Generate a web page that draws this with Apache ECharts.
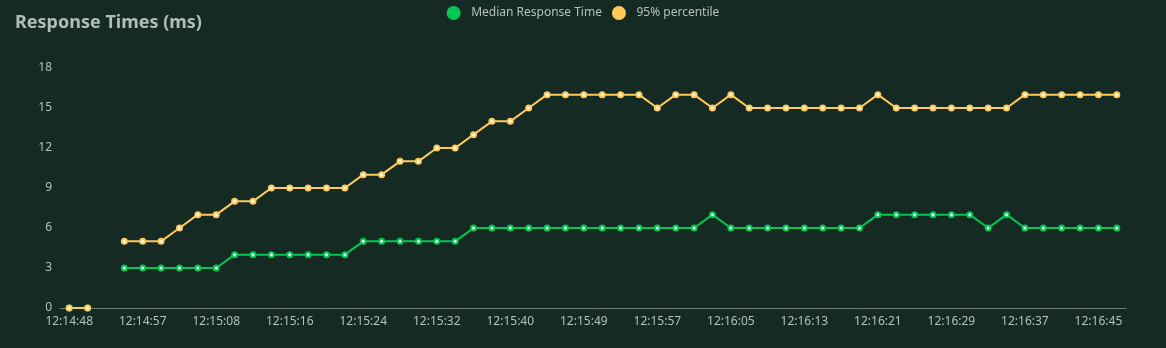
<!DOCTYPE html>
<html>
<head>
<meta charset="utf-8">
<script src="https://cdn.jsdelivr.net/npm/echarts@6/dist/echarts.min.js"></script>
<style>
  html, body { margin: 0; padding: 0; background: #152a23; }
  #chart { width: 1166px; height: 348px; }
</style>
</head>
<body>
<div id="chart"></div>
<script>
// Sample timestamps (one per stats update)
const times = [
  '12:14:48', '12:14:50', '12:14:52', '12:14:55',
  '12:14:57', '12:14:59', '12:15:02', '12:15:05',
  '12:15:08', '12:15:10', '12:15:12', '12:15:14',
  '12:15:16', '12:15:18', '12:15:20', '12:15:22',
  '12:15:24', '12:15:26', '12:15:28', '12:15:30',
  '12:15:32', '12:15:34', '12:15:36', '12:15:38',
  '12:15:40', '12:15:42', '12:15:44', '12:15:47',
  '12:15:49', '12:15:51', '12:15:53', '12:15:55',
  '12:15:57', '12:15:59', '12:16:01', '12:16:03',
  '12:16:05', '12:16:07', '12:16:09', '12:16:11',
  '12:16:13', '12:16:15', '12:16:17', '12:16:19',
  '12:16:21', '12:16:23', '12:16:25', '12:16:27',
  '12:16:29', '12:16:31', '12:16:33', '12:16:35',
  '12:16:37', '12:16:39', '12:16:41', '12:16:43',
  '12:16:45', '12:16:47'
];

// Median response time (ms); null = no sample
const median = [
  0, 0, null, 3, 3, 3, 3, 3, 3, 4,
  4, 4, 4, 4, 4, 4, 5, 5, 5, 5,
  5, 5, 6, 6, 6, 6, 6, 6, 6, 6,
  6, 6, 6, 6, 6, 7, 6, 6, 6, 6,
  6, 6, 6, 6, 7, 7, 7, 7, 7, 7,
  6, 7, 6, 6, 6, 6, 6, 6
];

// 95th percentile response time (ms)
const p95 = [
  0, 0, null, 5, 5, 5, 6, 7, 7, 8,
  8, 9, 9, 9, 9, 9, 10, 10, 11, 11,
  12, 12, 13, 14, 14, 15, 16, 16, 16, 16,
  16, 16, 15, 16, 16, 15, 16, 15, 15, 15,
  15, 15, 15, 15, 16, 15, 15, 15, 15, 15,
  15, 15, 16, 16, 16, 16, 16, 16
];

const yTicks = [0, 3, 6, 9, 12, 15, 18];

const textColor = '#b3c2ba';
const fontFamily = '"Noto Sans", "Open Sans", sans-serif';

const chart = echarts.init(document.getElementById('chart'), null, { renderer: 'canvas' });

chart.setOption({
  backgroundColor: '#152a23',
  animation: false,
  textStyle: { fontFamily: fontFamily },
  title: {
    text: 'Response Times (ms)',
    left: 10,
    top: 9,
    textStyle: { color: '#aec0b6', fontSize: 18, fontWeight: 'bold', fontFamily: fontFamily }
  },
  legend: {
    top: 1,
    left: 'center',
    icon: 'circle',
    itemWidth: 25,
    itemHeight: 14,
    itemGap: 10,
    textStyle: { color: textColor, fontSize: 12, fontFamily: fontFamily }
  },
  grid: { left: 60, right: 40, top: 68, bottom: 40, containLabel: false },
  xAxis: {
    type: 'category',
    data: times,
    boundaryGap: true,
    axisLine: { lineStyle: { color: '#6b7d74' } },
    axisTick: { lineStyle: { color: '#6b7d74' } },
    axisLabel: { color: textColor, fontSize: 12, interval: 3, margin: 8, fontFamily: fontFamily }
  },
  yAxis: {
    type: 'value',
    min: yTicks[0],
    max: yTicks[yTicks.length - 1],
    interval: yTicks[1] - yTicks[0],
    splitLine: { show: false },
    axisLine: { show: false },
    axisLabel: { color: textColor, fontSize: 12, fontFamily: fontFamily }
  },
  series: [
    {
      name: 'Median Response Time',
      type: 'line',
      data: median,
      color: '#00c853',
      symbol: 'emptyCircle',
      symbolSize: 5,
      lineStyle: { width: 2 },
      itemStyle: { borderWidth: 2 }
    },
    {
      name: '95% percentile',
      type: 'line',
      data: p95,
      color: '#ffca5a',
      symbol: 'emptyCircle',
      symbolSize: 5,
      lineStyle: { width: 2 },
      itemStyle: { borderWidth: 2 }
    }
  ]
});
</script>
</body>
</html>
